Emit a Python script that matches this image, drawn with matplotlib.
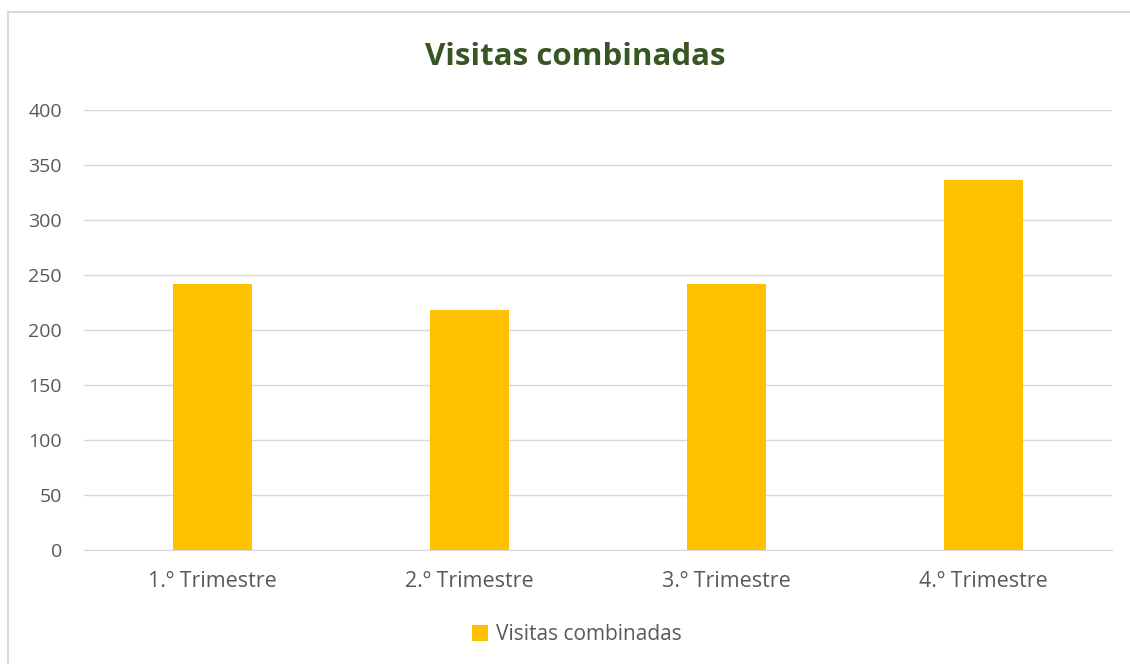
import matplotlib.pyplot as plt
from matplotlib.lines import Line2D

# Data
categories = ["1.º Trimestre", "2.º Trimestre", "3.º Trimestre", "4.º Trimestre"]
visitas = [242, 218, 242, 336]
yticks = [0, 50, 100, 150, 200, 250, 300, 350, 400]

W, H = 1130, 664
fig = plt.figure(figsize=(W / 100, H / 100), dpi=100)
plt.rcParams['font.family'] = ['Open Sans', 'DejaVu Sans']

# chart frame (only top and left edges visible in the reference)
fig.add_artist(Line2D([8 / W, 8 / W], [0, 1 - 11.5 / H], transform=fig.transFigure,
                      color='#d9d9d9', lw=1.5))
fig.add_artist(Line2D([8 / W, 1], [1 - 11.5 / H, 1 - 11.5 / H], transform=fig.transFigure,
                      color='#d9d9d9', lw=1.5))

ax = fig.add_axes([84 / W, 1 - 550 / H, (1112 - 84) / W, 440 / H])
x = range(len(categories))
ax.bar(x, visitas, width=0.31, color='#FFC000', zorder=3, label='Visitas combinadas')

ax.set_ylim(0, 400)
ax.set_xlim(-0.5, len(categories) - 0.5)
ax.set_yticks(yticks)
ax.set_xticks(list(x))
ax.set_xticklabels(categories)
ax.grid(axis='y', color='#d9d9d9', lw=1, zorder=0)
for s in ['top', 'right', 'left']:
    ax.spines[s].set_visible(False)
ax.spines['bottom'].set_color('#d9d9d9')
ax.tick_params(axis='both', length=0, colors='#595959')
ax.tick_params(axis='y', pad=16, labelsize=14)
ax.tick_params(axis='x', pad=15, labelsize=15.5)

fig.text(575 / W, 1 - 57 / H, 'Visitas combinadas', ha='center', va='center',
         fontsize=22.5, fontweight='bold', color='#375623')

leg = ax.legend(loc='center', bbox_to_anchor=(0.479, -0.193), frameon=False,
                fontsize=15, handlelength=0.8, handleheight=0.8, handletextpad=0.35)
for t in leg.get_texts():
    t.set_color('#595959')

fig.savefig('out.png', dpi=100)
